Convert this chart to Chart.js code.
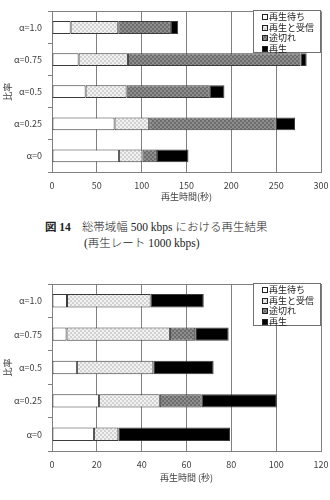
<!DOCTYPE html>
<html>
<head>
<meta charset="utf-8">
<script src="https://cdn.jsdelivr.net/npm/chart.js@4"></script>
<style>
  body { margin: 0; background: #fff; width: 330px; height: 500px; position: relative; overflow: hidden; }
  canvas { position: absolute; left: 0; }
  #c1 { top: 0; }
  #c2 { top: 270px; }
  #cap { position: absolute; left: 45px; top: 219px; font-family: "Liberation Serif", "Noto Sans CJK JP", serif; font-weight: 300; font-size: 11.5px; line-height: 16px; color: #222; white-space: nowrap; }
  #cap b { margin-right: 11px; font-weight: 700; }
  #cap .l2 { padding-left: 39px; }
</style>
</head>
<body>
<canvas id="c1" width="330" height="205"></canvas>
<div id="cap"><b>図 14</b>総帯域幅 500 kbps における再生結果<br><span class="l2">(再生レート 1000 kbps)</span></div>
<canvas id="c2" width="330" height="216"></canvas>
<script>
// categories (top to bottom) and series names
const categories = ['α=1.0', 'α=0.75', 'α=0.5', 'α=0.25', 'α=0']
const seriesNames = ['再生待ち', '再生と受信', '途切れ', '再生']

// upper chart: 総帯域幅 500 kbps
const wait1 = [20.8, 29.7, 37.5, 69.8, 74.6]
const recv1 = [53.1, 55.0, 45.7, 38.6, 26.4]
const cut1 = [58.7, 192.3, 92.8, 141.1, 16.0]
const play1 = [8.1, 7.0, 16.3, 21.5, 35.2]
const xTicks1 = [0, 50, 100, 150, 200, 250, 300]

// lower chart
const wait2 = [6.7, 6.5, 11.1, 21.0, 18.7]
const recv2 = [37.3, 46.1, 34.1, 27.1, 10.9]
const cut2 = [0, 11.3, 0, 18.7, 0]
const play2 = [23.7, 14.9, 26.9, 33.5, 49.8]
const xTicks2 = [0, 20, 40, 60, 80, 100, 120]

Chart.defaults.font.family = '"Noto Sans CJK JP", "Noto Sans", sans-serif'
Chart.defaults.font.size = 9
Chart.defaults.font.lineHeight = 1.2
Chart.defaults.color = '#404040'

function checker(a, b) {
  let c = document.createElement('canvas')
  c.width = 4
  c.height = 4
  let g = c.getContext('2d')
  g.fillStyle = a
  g.fillRect(0, 0, 4, 4)
  g.fillStyle = b
  g.fillRect(0, 0, 2, 2)
  g.fillRect(2, 2, 2, 2)
  return g.createPattern(c, 'repeat')
}

const fills = ['#ffffff', checker('#f2f2f2', '#d2d2d2'), checker('#8e8e8e', '#6c6c6c'), '#000000']

// plot frame + legend box in the upper right corner
const boxLegend = {
  id: 'boxLegend',
  afterDraw(chart) {
    let ctx = chart.ctx
    let a = chart.chartArea
    ctx.save()
    ctx.strokeStyle = '#808080'
    ctx.lineWidth = 1
    ctx.beginPath()
    ctx.moveTo(a.left, Math.round(a.top) + 0.5)
    ctx.lineTo(a.right, Math.round(a.top) + 0.5)
    ctx.stroke()

    let w = 68, h = 43
    let x = Math.round(a.right) - w, y = Math.round(a.top) - 1
    ctx.fillStyle = '#fff'
    ctx.fillRect(x, y, w, h)
    ctx.strokeStyle = '#707070'
    ctx.strokeRect(x + 0.5, y + 0.5, w - 1, h - 1)
    ctx.font = '9px "Noto Sans CJK JP"'
    ctx.textBaseline = 'middle'
    chart.data.datasets.forEach((ds, i) => {
      let cy = y + 7 + i * 10.5
      ctx.fillStyle = ds.backgroundColor
      ctx.fillRect(x + 9, Math.round(cy) - 3, 6, 6)
      ctx.strokeStyle = '#222'
      ctx.strokeRect(x + 9.5, Math.round(cy) - 2.5, 5, 5)
      ctx.fillStyle = '#222'
      ctx.fillText(ds.label, x + 16, cy)
    })
    ctx.restore()
  }
}

function makeChart(id, series, xTicks, xTitle, padTop, xHeight) {
  let ctx = document.getElementById(id).getContext('2d')
  return new Chart(ctx, {
    type: 'bar',
    data: {
      labels: categories,
      datasets: series.map((d, i) => ({
        label: seriesNames[i],
        data: d.map(v => v === 0 ? null : v),
        backgroundColor: fills[i],
        borderColor: '#3a3a3a',
        borderWidth: 1,
        borderSkipped: false,
        barPercentage: 0.4,
        categoryPercentage: 1
      }))
    },
    options: {
      indexAxis: 'y',
      responsive: false,
      animation: false,
      devicePixelRatio: 1,
      layout: { padding: { left: 0, top: padTop, right: 0, bottom: 0 } },
      plugins: { legend: { display: false }, tooltip: { enabled: false } },
      scales: {
        x: {
          stacked: true,
          min: xTicks[0],
          max: xTicks[xTicks.length - 1],
          afterBuildTicks: (s) => { s.ticks = xTicks.map(v => ({ value: v })) },
          afterFit: (s) => {
            s.height = xHeight
            s.paddingLeft = 0
            s.paddingRight = 9
          },
          grid: { color: '#808080', drawTicks: false },
          border: { color: '#808080' },
          ticks: { padding: 8 },
          title: { display: true, text: xTitle, padding: { top: 0, bottom: 2.6 } }
        },
        y: {
          stacked: true,
          afterFit: (s) => { s.width = 52 },
          grid: { drawOnChartArea: false, tickLength: 4, color: '#808080' },
          border: { color: '#808080' },
          ticks: { padding: 6 },
          title: { display: true, text: '比率', padding: { top: 2.6, bottom: 0 } }
        }
      }
    },
    plugins: [boxLegend]
  })
}

makeChart('c1', [wait1, recv1, cut1, play1], xTicks1, '再生時間(秒)', 5, 33)
makeChart('c2', [wait2, recv2, cut2, play2], xTicks2, '再生時間 (秒)', 14, 35)
</script>
</body>
</html>
